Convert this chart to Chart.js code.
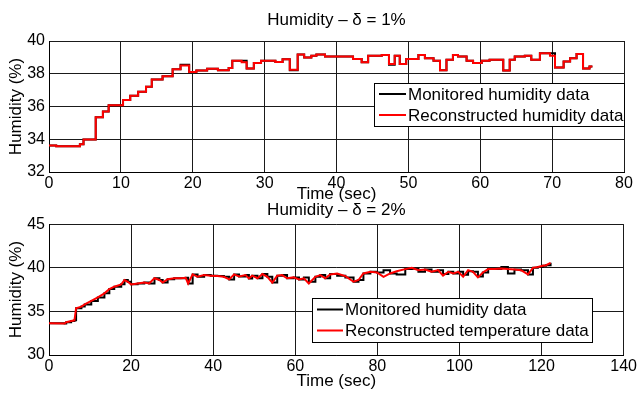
<!DOCTYPE html>
<html>
<head>
<meta charset="utf-8">
<script src="https://cdn.jsdelivr.net/npm/chart.js@4.4.1/dist/chart.umd.min.js"></script>
<style>
  html, body { margin: 0; padding: 0; background: #fff; }
  body { width: 639px; height: 394px; position: relative; overflow: hidden; }
  canvas { position: absolute; left: 0; }
  #c1 { top: 0; }
  #c2 { top: 200px; }
</style>
</head>
<body>
<canvas id="c1" width="639" height="210"></canvas>
<canvas id="c2" width="639" height="194"></canvas>
<script>
// ---------- DATA ----------
// Top panel (delta = 1%): change-point times (sec) and humidity (%)
const timeTop = [0,1,4.3,4.8,6.5,7.5,8.3,10.3,11.3,12.4,13.5,14.3,15.8,17.2,18.3,19.5,20.5,22,23.5,25,25.5,26.8,27.5,28.5,29.5,31.5,32.5,33.5,34.6,35.5,36.5,37.2,38.4,42.3,43.5,44.4,46.3,47.3,48.1,48.8,49.7,51.4,52.3,53.5,54.4,55.3,56.2,56.9,58.1,59,60.2,61.3,63.2,64.1,64.8,66.2,67.1,68.3,69.7,70.4,71.6,72.5,73.4,74.3,75.2,75.6];
const monitoredTop = [33.62,33.58,33.7,33.98,35.35,35.7,36.08,36.4,36.65,36.9,37.2,37.65,37.85,38.27,38.55,38.1,38.2,38.3,38.22,38.35,38.8,38.8,38.32,38.65,38.8,38.72,38.88,38.22,39.17,39.0,39.1,39.17,39.05,38.9,38.7,39.1,39.15,38.55,39.1,38.6,38.9,39.15,38.95,38.8,38.22,38.85,39.15,39.05,38.8,38.65,38.8,38.85,38.2,38.85,39.05,39.1,38.85,39.25,39.25,38.38,38.75,38.95,39.2,38.32,38.45,38.45];
const reconTop = [33.62,33.58,33.7,33.98,35.35,35.7,36.08,36.4,36.65,36.9,37.2,37.65,37.85,38.27,38.5,38.1,38.2,38.3,38.22,38.35,38.8,38.7,38.32,38.65,38.8,38.72,38.88,38.25,39.17,39.0,39.1,39.17,39.05,38.9,38.7,39.1,39.15,38.6,39.1,38.6,38.9,39.15,38.95,38.8,38.22,38.85,39.15,39.05,38.8,38.65,38.8,38.85,38.2,38.85,39.05,39.1,38.85,39.25,39.1,38.38,38.75,38.95,39.2,38.32,38.45,38.45];

// Bottom panel (delta = 2%)
const timeBot = [0,3.8,4.2,5.4,6.2,6.6,7.9,8.7,10.3,11.9,13.5,14.7,15.9,17.6,18.4,19.2,20.0,21.6,23.2,24.4,25.7,26.9,27.7,28.9,30.5,32.1,33.3,33.9,35.0,36.2,37.8,39.4,41.0,42.6,43.9,45.1,46.3,47.9,48.7,49.5,50.8,52.0,53.2,54.4,55.6,56.8,58.0,59.6,60.9,62.1,63.3,64.9,66.1,67.3,68.5,70.2,72.2,74.2,75.4,76.6,78.3,79.9,81.5,83.1,84.7,86.8,88.4,90.0,91.6,93.2,94.8,96.0,97.3,98.5,99.7,100.9,102.1,103.3,104.5,105.7,107.0,108.6,110.2,111.8,113.4,115.0,116.7,117.9,119.1,120.3,121.1,122.2];
const monitoredBot = [33.64,33.6,33.76,33.9,33.98,35.36,35.55,35.8,36.2,36.6,37.07,37.56,37.83,38.1,38.6,38.4,38.1,38.2,38.3,38.2,38.8,38.6,38.3,38.7,38.8,38.8,38.86,38.2,39.24,38.97,39.16,39.1,39.05,38.97,38.67,39.24,39.0,39.16,38.78,39.1,38.8,39.28,38.97,38.3,39.1,39.16,38.8,38.9,38.67,38.9,38.4,38.97,39.16,38.8,39.3,39.1,38.9,38.4,38.6,39.35,39.54,39.47,39.73,39.35,39.24,39.85,39.9,39.54,39.8,39.54,39.73,39.3,39.54,39.35,39.54,39.2,39.6,39.54,39.0,39.47,39.85,39.85,40.1,39.35,39.8,39.73,39.24,40.0,40.1,40.23,40.3,40.57];
const reconBot = [33.64,33.6,33.76,33.9,33.98,35.36,35.55,35.8,36.2,36.6,37.07,37.56,37.83,38.1,38.6,38.4,38.1,38.2,38.3,38.2,38.8,38.6,38.3,38.7,38.8,38.8,38.86,38.2,39.24,38.97,39.16,39.1,39.05,38.97,38.67,39.24,39.0,39.16,38.78,39.1,38.8,39.28,38.97,38.3,39.1,39.16,38.8,38.9,38.67,38.8,38.2,38.97,39.16,38.8,39.24,39.35,39.05,38.4,38.6,39.35,39.54,39.47,38.97,39.35,39.6,39.85,40.0,39.73,39.8,39.54,39.73,39.1,39.54,39.35,39.54,38.97,39.73,39.54,38.9,39.47,39.85,39.85,39.92,39.85,39.8,39.73,39.24,40.0,40.1,40.23,40.3,40.57];

const xTicksTop = [0,10,20,30,40,50,60,70,80];
const yTicksTop = [32,34,36,38,40];
const xTicksBot = [0,20,40,60,80,100,120,140];
const yTicksBot = [30,35,40,45];

const titleTop = 'Humidity \u2013 \u03b4 = 1%';
const titleBot = 'Humidity \u2013 \u03b4 = 2%';
const legendTop = ['Monitored humidity data', 'Reconstructed humidity data'];
const legendBot = ['Monitored humidity data', 'Reconstructed temperature data'];

// ---------- RENDERING ----------
const FONT = "'Liberation Sans', Arial, Helvetica, sans-serif";
Chart.defaults.font.family = FONT;
Chart.defaults.color = '#000';

const boxLegend = {
  id: 'boxLegend',
  afterDraw(chart, args, opts) {
    const ctx = chart.ctx;
    ctx.save();
    ctx.fillStyle = '#fff';
    ctx.fillRect(opts.x, opts.y, opts.w, opts.h);
    ctx.strokeStyle = '#000';
    ctx.lineWidth = 1;
    ctx.strokeRect(opts.x + 0.5, opts.y + 0.5, opts.w, opts.h);
    ctx.font = opts.fontSize + 'px ' + FONT;
    ctx.textBaseline = 'middle';
    ctx.textAlign = 'left';
    opts.items.forEach((it, i) => {
      const cy = opts.rows[i];
      ctx.strokeStyle = it.color;
      ctx.lineWidth = 2;
      ctx.beginPath();
      ctx.moveTo(opts.lineX0, cy);
      ctx.lineTo(opts.lineX1, cy);
      ctx.stroke();
      ctx.fillStyle = '#000';
      ctx.fillText(it.label, opts.textX, cy + 1);
    });
    ctx.restore();
  }
};

function pts(xs, ys) { return xs.map((x, i) => ({ x: x, y: ys[i] })); }

function makeChart(id, cfg) {
  return new Chart(document.getElementById(id), {
    type: 'line',
    data: {
      datasets: [
        { label: cfg.legend[0], data: pts(cfg.t, cfg.mon), borderColor: '#000', borderWidth: 2,
          pointRadius: 0, stepped: true, order: 1, fill: false },
        { label: cfg.legend[1], data: pts(cfg.t, cfg.rec), borderColor: '#ff0000', borderWidth: 2,
          pointRadius: 0, stepped: cfg.recStepped, order: 0, fill: false, tension: 0 }
      ]
    },
    options: {
      responsive: false,
      animation: false,
      devicePixelRatio: 1,
      layout: { padding: { left: 0, right: 15, top: cfg.padTop, bottom: 0 } },
      plugins: {
        legend: { display: false },
        tooltip: { enabled: false },
        title: { display: true, fullSize: false, text: cfg.title, color: '#000',
          font: { size: 17, weight: 'normal', family: FONT },
          padding: { top: 0, bottom: cfg.titleGap } },
        boxLegend: Object.assign({ items: [
          { label: cfg.legend[0], color: '#000' },
          { label: cfg.legend[1], color: '#ff0000' }
        ] }, cfg.box)
      },
      scales: {
        x: {
          type: 'linear', min: cfg.xTicks[0], max: cfg.xTicks[cfg.xTicks.length - 1],
          afterBuildTicks: (s) => { s.ticks = cfg.xTicks.map(v => ({ value: v })); },
          afterFit: (s) => { s.height = cfg.xAxisH; },
          ticks: { font: { size: 16 }, color: '#000', padding: 2, maxRotation: 0 },
          grid: { color: '#1a1a1a', lineWidth: 1, drawTicks: false },
          border: { display: true, color: '#000', width: 1 },
          title: { display: true, text: 'Time (sec)', color: '#000', font: { size: 17 },
            padding: { top: 0, bottom: cfg.xTitlePadB } }
        },
        y: {
          type: 'linear', min: cfg.yTicks[0], max: cfg.yTicks[cfg.yTicks.length - 1],
          afterBuildTicks: (s) => { s.ticks = cfg.yTicks.map(v => ({ value: v })); },
          afterFit: (s) => { s.width = 49; },
          ticks: { font: { size: 16 }, color: '#000', padding: 4 },
          grid: { color: '#1a1a1a', lineWidth: 1, drawTicks: false },
          border: { display: true, color: '#000', width: 1 },
          title: { display: true, text: 'Humidity (%)', color: '#000', font: { size: 17 },
            padding: { top: 6, bottom: 0 } }
        }
      }
    },
    plugins: [boxLegend]
  });
}

makeChart('c1', {
  t: timeTop, mon: monitoredTop, rec: reconTop, recStepped: true,
  xTicks: xTicksTop, yTicks: yTicksTop, title: titleTop, legend: legendTop,
  padTop: 10, titleGap: 10.6, xAxisH: 38, xTitlePadB: 5,
  box: { x: 374, y: 83, w: 250, h: 43, rows: [94, 115], lineX0: 379, lineX1: 406, textX: 408, fontSize: 17 }
});

makeChart('c2', {
  t: timeBot, mon: monitoredBot, rec: reconBot, recStepped: false,
  xTicks: xTicksBot, yTicks: yTicksBot, title: titleBot, legend: legendBot,
  padTop: 0, titleGap: 3.8, xAxisH: 39, xTitlePadB: 2,
  box: { x: 312, y: 98, w: 280, h: 44, rows: [109.5, 130.5], lineX0: 317, lineX1: 343, textX: 345, fontSize: 17 }
});
</script>
</body>
</html>
